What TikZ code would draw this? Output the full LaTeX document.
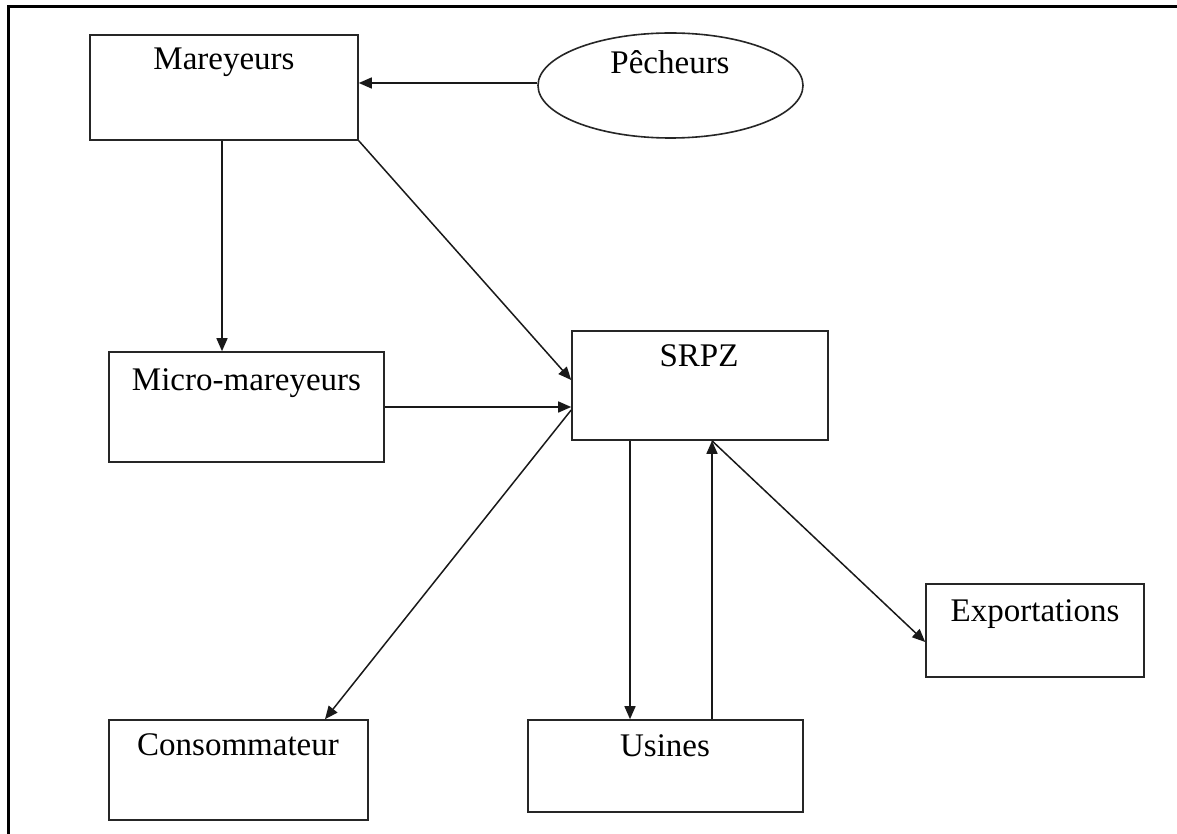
\documentclass[tikz,border=0pt]{standalone}
\usepackage{fontspec}
\setmainfont{Liberation Serif}
\usetikzlibrary{arrows.meta,shapes.geometric,calc}
\begin{document}
\begin{tikzpicture}[x=1pt,y=-1pt,
  box/.style={draw=black!85,line width=1.6pt,minimum width=#1,inner sep=0pt},
  lbl/.style={anchor=base,inner sep=0pt,font=\fontsize{33}{38}\selectfont},
  conn/.style={draw=black!90,line width=1.5pt,-{Triangle[length=13pt,width=11pt]}}]
\useasboundingbox (0,0) rectangle (1177,834);
\fill[white] (0,0) rectangle (1177,834);
\draw[line width=3pt] (1200,6.5) -- (8,6.5) -- (8,870);
% boxes
\node[box=268pt,minimum height=105pt] (mar) at (224,87.5) {};
\node[draw=black!85,line width=1.6pt,ellipse,minimum width=265pt,minimum height=105pt,inner sep=0pt] (pec) at (670.5,85.5) {};
\node[box=275pt,minimum height=110pt] (mic) at (246.5,407) {};
\node[box=256pt,minimum height=109pt] (srpz) at (700,385.5) {};
\node[box=259pt,minimum height=100pt] (con) at (238.5,770) {};
\node[box=275pt,minimum height=92pt] (usi) at (665.5,766) {};
\node[box=218pt,minimum height=93pt] (exp) at (1035,630.5) {};
% labels
\node[lbl] (tmar) at (224,70) {Mareyeurs};
\node[lbl] (tpec) at (670,74) {Pêcheurs};
\node[lbl] (tmic) at (246.5,390) {Micro-mareyeurs};
\node[lbl] (tsrpz) at (699,366) {SRPZ};
\node[lbl] (tcon) at (238,755) {Consommateur};
\node[lbl] (tusi) at (665,756) {Usines};
\node[lbl] (texp) at (1035,621) {Exportations};
% connectors
\draw[conn] ([yshift=2.5pt]pec.west) -- ([yshift=2.5pt]pec.west -| mar.east);
\draw[conn] ([xshift=-2pt]mar.south) -- ([xshift=-2pt]mar.south |- mic.north);
\draw[conn] (mar.south east) -- ([yshift=5.5pt]srpz.west);
\draw[conn] (mic.east) -- (mic.east -| srpz.west);
\draw[conn] ([yshift=-24.5pt]srpz.west) -- ([xshift=86.5pt]con.north);
\draw[conn] ([xshift=-70pt]srpz.south) -- ([xshift=-70pt]srpz.south |- usi.north);
\draw[conn] ([xshift=46.5pt]usi.north) -- ([xshift=46.5pt]usi.north |- srpz.south);
\draw[conn] ([xshift=12pt]srpz.south) -- ([yshift=-11.5pt]exp.west);
\end{tikzpicture}
\end{document}
